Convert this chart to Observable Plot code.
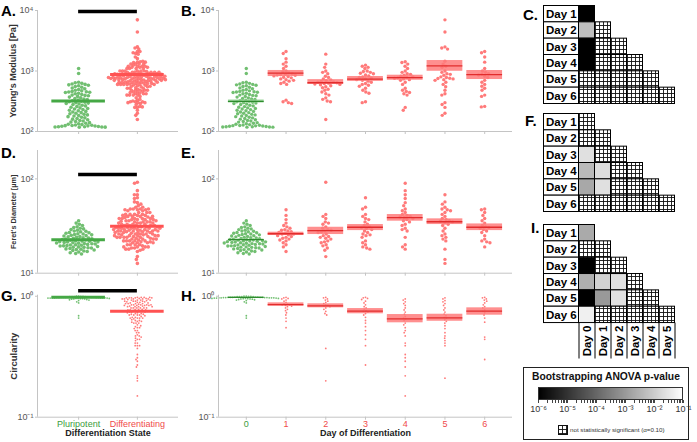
<!DOCTYPE html>
<html><head><meta charset="utf-8">
<script src="https://cdn.jsdelivr.net/npm/d3@7"></script>
<script src="https://cdn.jsdelivr.net/npm/@observablehq/plot@0.6"></script>
<style>
body{margin:0;background:#fff;}
#chart{position:relative;width:697px;height:442px;overflow:hidden;font-family:"Liberation Sans",Arial,Helvetica,sans-serif;background:#fff;}
#chart svg{overflow:visible;}
.lbl{position:absolute;font-weight:bold;line-height:1;color:#000;white-space:nowrap;}
</style></head><body>
<svg width="0" height="0" style="position:absolute;left:0;top:0"><defs>
<pattern id="hatch" width="4" height="4" patternUnits="userSpaceOnUse"><rect width="4" height="4" fill="white"/><path d="M0,0.5H4M0.5,0V4" stroke="#111" stroke-width="0.9"/></pattern>
</defs></svg>
<div id="chart"></div>
<script>
// ---------------- DATA ----------------
const stateLabels = ["Pluripotent", "Differentiating"];
const dayLabels = ["0", "1", "2", "3", "4", "5", "6"];
const rowLabels = ["Day 1", "Day 2", "Day 3", "Day 4", "Day 5", "Day 6"];
const colLabels = ["Day 0", "Day 1", "Day 2", "Day 3", "Day 4", "Day 5"];

// Young's modulus [Pa] per day
const youngByDay = [
  [1100, 910, 650, 640, 625, 610, 600, 590, 580, 570, 555, 540, 525, 510, 495, 480, 470, 460, 455, 450, 445, 440, 430, 420, 410, 400, 395, 390, 380, 370, 360, 352, 345, 338, 330, 322, 316, 310, 305, 300, 295, 290, 285, 280, 272, 265, 258, 252, 246, 240, 235, 230, 225, 220, 215, 210, 205, 200, 196, 192, 188, 184, 180, 176, 172, 168, 164, 160, 156, 152, 149, 146, 143, 140, 137, 134, 132, 130, 128, 127, 126, 125, 124, 123, 122, 121, 120, 120, 119, 119, 118, 118],
  [2100, 1950, 1600, 1400, 1300, 1200, 1100, 1000, 960, 930, 900, 880, 870, 860, 850, 830, 810, 790, 770, 740, 720, 700, 680, 650, 620, 600, 330, 310, 300, 290],
  [1900, 1300, 1150, 1000, 950, 900, 820, 780, 740, 710, 690, 670, 660, 650, 640, 630, 620, 610, 600, 590, 570, 550, 530, 500, 480, 450, 420, 400, 360, 340, 320, 310, 158],
  [1250, 1200, 1150, 1100, 1000, 980, 950, 920, 900, 860, 830, 800, 780, 760, 740, 720, 700, 680, 650, 620, 600, 580, 560, 520, 480, 450, 430, 310, 300],
  [1420, 1380, 1300, 1200, 1100, 1000, 950, 900, 880, 850, 820, 800, 780, 770, 760, 740, 720, 700, 650, 600, 520, 480, 460, 440, 420, 400, 250, 225],
  [7000, 4400, 2500, 2400, 2300, 1450, 1300, 1200, 1150, 1000, 950, 900, 880, 850, 800, 780, 760, 750, 740, 720, 700, 650, 600, 550, 480, 420, 400, 300, 280, 250, 200, 185],
  [2100, 2000, 1700, 1400, 1100, 1000, 950, 900, 880, 860, 820, 780, 700, 650, 600, 560, 520, 480, 400, 380, 260, 255]
];
const youngMidDay = [314, 920, 640, 732, 776, 1215, 873];
const youngLoDay  = [296, 810, 600, 673, 703, 990, 723];
const youngHiDay  = [332, 1020, 720, 811, 852, 1490, 1019];
const youngMidState = [318, 873];

// Feret's diameter [um] per day
const feretByDay = [
  [36, 34, 33, 32, 31, 30.5, 30, 29.5, 29, 28.5, 28, 27.8, 27.5, 27, 26.8, 26.5, 26.2, 26, 25.7, 25.5, 25.2, 25, 24.8, 24.5, 24.3, 24, 23.8, 23.6, 23.4, 23.2, 23, 22.8, 22.6, 22.5, 22.4, 22.2, 22, 21.9, 21.8, 21.6, 21.5, 21.4, 21.2, 21, 20.9, 20.8, 20.6, 20.5, 20.4, 20.2, 20, 19.9, 19.8, 19.6, 19.5, 19.4, 19.2, 19, 18.9, 18.8, 18.6, 18.5, 18.3, 18.1, 18, 17.8, 17.6, 17.4, 17.2, 17, 16.8, 16.5, 16.2, 16],
  [47, 41, 37, 34, 32, 31, 30, 29, 28.5, 28, 27.5, 27, 26.5, 26, 26, 25.5, 25, 24.5, 24, 23.5, 23, 22.5, 22, 21, 20, 19, 17],
  [92, 42, 40, 38, 35, 34, 33, 31, 30, 29, 28.5, 28, 27.5, 27, 26, 25, 24.5, 24, 23.5, 23, 22, 21.5, 21, 20, 19.5, 18.5, 17.5, 15],
  [63, 50, 48, 42, 40, 38, 37, 35, 33, 32, 31, 30.5, 30, 29, 28, 27, 26, 25.5, 25, 24, 22, 21, 20, 19, 18.5, 18],
  [90, 75, 68, 62, 56, 52, 48, 46, 44, 42, 41, 40, 39.5, 39, 38, 37, 36, 35, 33, 32, 30, 29, 28, 24, 20, 19, 18],
  [68, 57, 54, 50, 48, 47, 46, 44, 42, 40, 38, 37, 36, 35.5, 35, 34, 33, 32, 30, 28, 26, 25, 24, 23, 22, 18, 14, 12.7],
  [48, 47, 44, 41, 38, 36, 34, 32, 31, 30.5, 30, 29, 28, 27, 25, 23, 22, 21.5, 21, 19]
];
const feretMidDay = [22.7, 26.2, 28.3, 30.7, 38.9, 35.1, 30.7];
const feretLoDay  = [22.4, 25.1, 25.7, 28.3, 35.6, 32.8, 28.3];
const feretHiDay  = [22.9, 27.2, 30.7, 32.8, 41.9, 37.7, 33.3];
const feretMidState = [22.6, 31.5];

// Circularity per day
const circByDay = [
  [1.0, 1.0, 0.995, 0.995, 0.99, 0.99, 0.99, 0.99, 0.985, 0.985, 0.985, 0.98, 0.98, 0.98, 0.98, 0.98, 0.975, 0.975, 0.975, 0.975, 0.97, 0.97, 0.97, 0.97, 0.97, 0.965, 0.965, 0.965, 0.96, 0.96, 0.96, 0.955, 0.955, 0.95, 0.95, 0.945, 0.94, 0.935, 0.93, 0.92, 0.9, 0.88, 0.69, 0.66],
  [0.98, 0.97, 0.96, 0.95, 0.93, 0.91, 0.89, 0.87, 0.86, 0.85, 0.85, 0.84, 0.83, 0.82, 0.8, 0.78, 0.76, 0.73, 0.7, 0.66, 0.62, 0.55],
  [0.98, 0.97, 0.95, 0.93, 0.91, 0.89, 0.87, 0.85, 0.84, 0.83, 0.82, 0.8, 0.78, 0.75, 0.72, 0.7, 0.37, 0.2],
  [0.98, 0.97, 0.96, 0.94, 0.91, 0.88, 0.85, 0.82, 0.8, 0.78, 0.76, 0.75, 0.74, 0.72, 0.7, 0.67, 0.63, 0.6, 0.56, 0.52, 0.48, 0.44, 0.39, 0.27],
  [0.95, 0.93, 0.9, 0.87, 0.84, 0.8, 0.77, 0.74, 0.71, 0.68, 0.66, 0.65, 0.63, 0.6, 0.58, 0.55, 0.52, 0.5, 0.47, 0.41, 0.39, 0.33, 0.31, 0.29, 0.26, 0.22, 0.15],
  [0.97, 0.95, 0.92, 0.9, 0.87, 0.84, 0.8, 0.77, 0.74, 0.71, 0.69, 0.67, 0.66, 0.64, 0.62, 0.6, 0.57, 0.54, 0.5, 0.47, 0.45, 0.43, 0.41, 0.39, 0.21],
  [0.98, 0.97, 0.95, 0.93, 0.91, 0.88, 0.85, 0.82, 0.8, 0.77, 0.75, 0.73, 0.7, 0.66, 0.61, 0.46, 0.44, 0.3]
];
const circMidDay = [0.98, 0.854, 0.833, 0.752, 0.65, 0.663, 0.752];
const circLoDay  = [0.975, 0.827, 0.802, 0.716, 0.603, 0.621, 0.697];
const circHiDay  = [0.985, 0.882, 0.866, 0.791, 0.706, 0.71, 0.802];
const circMidState = [0.98, 0.75];

// significance bars (y value)
const sigYoung = 9600, sigFeret = 111, sigCirc = 1.11;

// Bootstrapping ANOVA p-values (null = not significant, hatched); rows Day1..Day6, cols Day0..
const youngP = [[1e-6], [5.6e-3, null], [1e-6, null, null], [1e-6, null, null, null], [null, null, null, null, null], [null, null, null, null, null, null]];
const feretP = [[null], [null, null], [0.025, null, null], [4.5e-3, 0.022, null, null], [2e-3, 0.025, null, null, null], [null, null, null, null, null, null]];
const circP  = [[2.2e-3], [null, null], [1e-6, null, null], [2.8e-3, 0.0126, 0.025, null], [1e-6, 1e-3, 0.025, null, null], [0.05, null, null, null, null, null]];
const pDomain = [1e-6, 1e-1];

// ---------------- STYLE ----------------
const FONT = '"Liberation Sans", Arial, Helvetica, sans-serif';
const GREEN_DOT = "#62b862", RED_DOT = "#ff6b6b";
const GREEN_TXT = "#3c9c3c", RED_TXT = "#f04a4a";
const AXIS = "#c4c4c4";
const chart = document.getElementById("chart");
const supMap = {"-": "\u207B", "0": "\u2070", "1": "\u00B9", "2": "\u00B2", "3": "\u00B3", "4": "\u2074", "5": "\u2075", "6": "\u2076", "7": "\u2077", "8": "\u2078", "9": "\u2079"};
const pow10 = d => "10" + String(Math.round(Math.log10(d))).split("").map(c => supMap[c]).join("");
const isDecade = d => Math.abs(Math.log10(d) - Math.round(Math.log10(d))) < 1e-9;
function put(el, left, top) { el.style.position = "absolute"; el.style.left = left + "px"; el.style.top = top + "px"; chart.appendChild(el); return el; }
function letter(t, left, top, size) { const d = document.createElement("div"); d.className = "lbl"; d.textContent = t; d.style.fontSize = size + "px"; put(d, left, top); return d; }
const baseStyle = {background: "transparent", overflow: "visible", fontFamily: FONT, maxWidth: "none"};

function swarmPanel(o) {
  const n = o.groups.length, pad = 0.7;
  const xDomain = [-pad, n - 1 + pad];
  const step = (o.width - o.mL - o.mR) / (n - 1 + 2 * pad);
  const idx = d3.range(n);
  const pts = o.groups.flatMap((vals, g) => vals.map(v => ({g, v})));
  const dots = Plot.plot({
    width: o.width, height: o.height,
    marginLeft: o.mL + (pad - 0.5) * step, marginRight: o.mR + (pad - 0.5) * step,
    marginTop: o.mT, marginBottom: o.mB,
    fx: {domain: idx, padding: 0, round: false, axis: null},
    y: {type: "log", domain: o.yDomain, axis: null},
    style: baseStyle,
    marks: [
      Plot.dot(pts.filter(d => d.g === 0), Plot.dodgeX({anchor: "middle", padding: o.pad[0]}, {fx: "g", y: "v", r: o.r, fill: GREEN_DOT, fillOpacity: 0.9})),
      Plot.dot(pts.filter(d => d.g > 0), Plot.dodgeX({anchor: "middle", padding: o.pad[1]}, {fx: "g", y: "v", r: o.r, fill: RED_DOT, fillOpacity: 0.9}))
    ]
  });
  const marks = [
    Plot.ruleX([xDomain[0]], {stroke: AXIS}),
    Plot.ruleY([o.yDomain[0]], {stroke: AXIS}),
    Plot.axisY(o.yTicks, {tickFormat: pow10, tickSize: 2, tickPadding: 2, fontSize: 9, fill: "#555", stroke: AXIS}),
    Plot.axisX(idx, {tickFormat: () => "", tickSize: 3, stroke: AXIS})
  ];
  if (o.lo) marks.push(Plot.rect(idx, {x1: i => i - o.half, x2: i => i + o.half, y1: i => o.lo[i], y2: i => o.hi[i], fill: i => i === 0 ? "#94d394" : "#ff7b7b", fillOpacity: 0.85}));
  marks.push(Plot.ruleY(idx, {x1: i => i - o.half, x2: i => i + o.half, y: i => o.mid[i], stroke: i => i === 0 ? o.lineGreen : o.lineRed, strokeWidth: o.lw}));
  if (o.sig != null) marks.push(Plot.ruleY([o.sig], {x1: 0, x2: 1, stroke: "black", strokeWidth: 3.5}));
  if (o.xLabels) {
    marks.push(Plot.text(o.xLabels, {x: (d, i) => i, text: d => d, frameAnchor: "bottom", dy: 9.5, fill: (d, i) => i === 0 ? GREEN_TXT : RED_TXT, fontSize: 9}));
    marks.push(Plot.text([o.xTitle], {text: d => d, frameAnchor: "bottom", dy: 19, fontWeight: "bold", fontSize: 9, fill: "#222"}));
  }
  if (o.yLabel) marks.push(Plot.text([o.yLabel], {text: d => d, frameAnchor: "left", textAnchor: "middle", dx: -24, rotate: -90, fontWeight: "bold", fontSize: o.yLabelSize, fill: "#333"}));
  const base = Plot.plot({
    width: o.width, height: o.height, marginLeft: o.mL, marginRight: o.mR, marginTop: o.mT, marginBottom: o.mB,
    x: {domain: xDomain}, y: {type: "log", domain: o.yDomain},
    style: baseStyle, marks
  });
  put(dots, o.left, o.top);
  put(base, o.left, o.top);
}

const rows = [
  {top: 0, height: 140, mT: 10, mB: 9, yDomain: [100, 10000], yTicks: [100, 1000, 10000], data: youngByDay, mid: youngMidDay, lo: youngLoDay, hi: youngHiDay, midS: youngMidState, sig: sigYoung, yLabel: "Young's Modulus [Pa]", yLabelSize: 9, r: 1.7, rS: 1.8, padS: [-0.2, -1.0], padD: [0, 0]},
  {top: 140, height: 140, mT: 10, mB: 7.3, yDomain: [10, 200], yTicks: [10, 100], data: feretByDay, mid: feretMidDay, lo: feretLoDay, hi: feretHiDay, midS: feretMidState, sig: sigFeret, yLabel: "Feret's Diameter [\u00B5m]", yLabelSize: 7.3, r: 1.7, rS: 1.8, padS: [-0.2, -0.6], padD: [0, 0]},
  {top: 280, height: 162, mT: 14.7, mB: 25.3, yDomain: [0.1, 1.02], yTicks: [0.1, 1], data: circByDay, mid: circMidDay, lo: circLoDay, hi: circHiDay, midS: circMidState, sig: sigCirc, yLabel: "Circularity", yLabelSize: 9.5, r: 0.9, rS: 0.9, padS: [0.4, 0.4], padD: [0.5, 0.5], last: true}
];

rows.forEach(R => {
  const diff = R.data.slice(1).flat();
  swarmPanel({
    left: 0, top: R.top, width: 185, height: R.height, mL: 37, mR: 7, mT: R.mT, mB: R.mB,
    yDomain: R.yDomain, yTicks: R.yTicks, groups: [R.data[0], diff], mid: R.midS,
    half: 0.456, lw: 3, lineGreen: "#45a845", lineRed: "#ff5252", r: R.rS, pad: R.padS,
    sig: R.sig, yLabel: R.yLabel, yLabelSize: R.yLabelSize,
    xLabels: R.last ? stateLabels : null, xTitle: "Differentiation State"
  });
  swarmPanel({
    left: 185, top: R.top, width: 335, height: R.height, mL: 33, mR: 8, mT: R.mT, mB: R.mB,
    yDomain: R.yDomain, yTicks: R.yTicks, groups: R.data, mid: R.mid, lo: R.lo, hi: R.hi,
    half: 0.45, lw: 1.3, lineGreen: "#2e8b2e", lineRed: "#e22c2c", r: R.r, pad: R.padD,
    xLabels: R.last ? dayLabels : null, xTitle: "Day of Differentiation"
  });
});

// ---------------- HEATMAPS ----------------
const colorScale = {type: "log", domain: pDomain, range: ["black", "white"], interpolate: "rgb", clamp: true};
function heatmap(pRows, left, top, withCols) {
  const cells = pRows.flatMap((row, r) => row.map((p, c) => ({r, c, p})));
  const labW = 35 / 16;
  const ymax = withCols ? 8.2 : 6;
  const height = withCols ? 135 : 99;
  const marks = [
    Plot.rect(rowLabels, {x1: -labW, x2: 0, y1: (d, i) => i, y2: (d, i) => i + 1, fill: "white", stroke: "black"}),
    Plot.text(rowLabels, {x: -labW, y: (d, i) => i + 0.5, text: d => d, textAnchor: "start", dx: 2, fontWeight: "bold", fontSize: 11.5, fill: "black"}),
    Plot.rect(cells.filter(d => d.p != null), {x1: "c", x2: d => d.c + 1, y1: "r", y2: d => d.r + 1, fill: "p", stroke: "black"}),
    Plot.rect(cells.filter(d => d.p == null), {x1: "c", x2: d => d.c + 1, y1: "r", y2: d => d.r + 1, fill: "url(#hatch)", stroke: "black"})
  ];
  if (withCols) {
    marks.push(Plot.ruleX(d3.range(colLabels.length + 1), {y1: 6, y2: ymax, stroke: "black"}));
    marks.push(Plot.text(colLabels, {x: (d, i) => i + 0.5, y: (6 + ymax) / 2, text: d => d, rotate: -90, fontWeight: "bold", fontSize: 11.5, fill: "black"}));
  }
  const svg = Plot.plot({
    width: 132, height, marginLeft: 0.5, marginRight: 0.5, marginTop: 0.5, marginBottom: 0.5,
    x: {domain: [-labW, 6], axis: null},
    y: {domain: [0, ymax], reverse: true, axis: null},
    color: colorScale,
    style: baseStyle, marks
  });
  put(svg, left, top);
}
heatmap(youngP, 543, 4.5, false);
heatmap(feretP, 543, 113, false);
heatmap(circP, 543, 223.5, true);

// ---------------- LEGEND ----------------
const box = document.createElement("div");
box.style.cssText = "width:166px;height:73px;border:1px solid #222;box-sizing:border-box;background:#fff;";
put(box, 523, 367);
const title = document.createElement("div");
title.textContent = "Bootstrapping ANOVA p-value";
title.style.cssText = "font-weight:bold;font-size:10.3px;width:166px;text-align:center;line-height:1;color:#111;";
put(title, 523, 372);
const leg = Plot.legend({
  color: {type: "log", domain: pDomain, range: ["black", "white"], interpolate: "rgb"},
  width: 157, height: 30, marginTop: 1, marginBottom: 16, marginLeft: 6, marginRight: 6,
  ticks: 50, tickSize: 3, tickFormat: d => isDecade(d) ? pow10(d) : "", label: null,
  style: {fontFamily: FONT, fontSize: "9px", color: "#333", background: "transparent", overflow: "visible"}
});
d3.select(leg).selectAll(".tick line").attr("y1", 0).attr("stroke", "#444");
d3.select(leg).selectAll(".tick text").attr("font-size", 9).attr("fill", "#333");
put(leg, 532, 386);
const barBorder = document.createElement("div");
barBorder.style.cssText = "width:145px;height:13px;border:1px solid #333;box-sizing:border-box;";
put(barBorder, 538, 387);
const ns = "http://www.w3.org/2000/svg";
const icon = document.createElementNS(ns, "svg");
icon.setAttribute("width", 10); icon.setAttribute("height", 10);
const ir = document.createElementNS(ns, "rect");
ir.setAttribute("x", 0.5); ir.setAttribute("y", 0.5); ir.setAttribute("width", 9); ir.setAttribute("height", 9);
ir.setAttribute("fill", "url(#hatch)"); ir.setAttribute("stroke", "#111");
icon.appendChild(ir);
put(icon, 558, 425);
const note = document.createElement("div");
note.textContent = "not statistically significant (\u03B1=0.10)";
note.style.cssText = "font-size:6.2px;line-height:1;color:#333;white-space:nowrap;";
put(note, 570, 427);

// ---------------- PANEL LETTERS ----------------
letter("A.", 1, 3, 15);
letter("B.", 181, 3, 15);
letter("C.", 523, 7, 15);
letter("D.", 1, 145, 15);
letter("E.", 181, 145, 15);
letter("F.", 525, 113, 15);
letter("G.", 1, 288, 15);
letter("H.", 181, 288, 15);
letter("I.", 531, 220, 15);
</script></body></html>
